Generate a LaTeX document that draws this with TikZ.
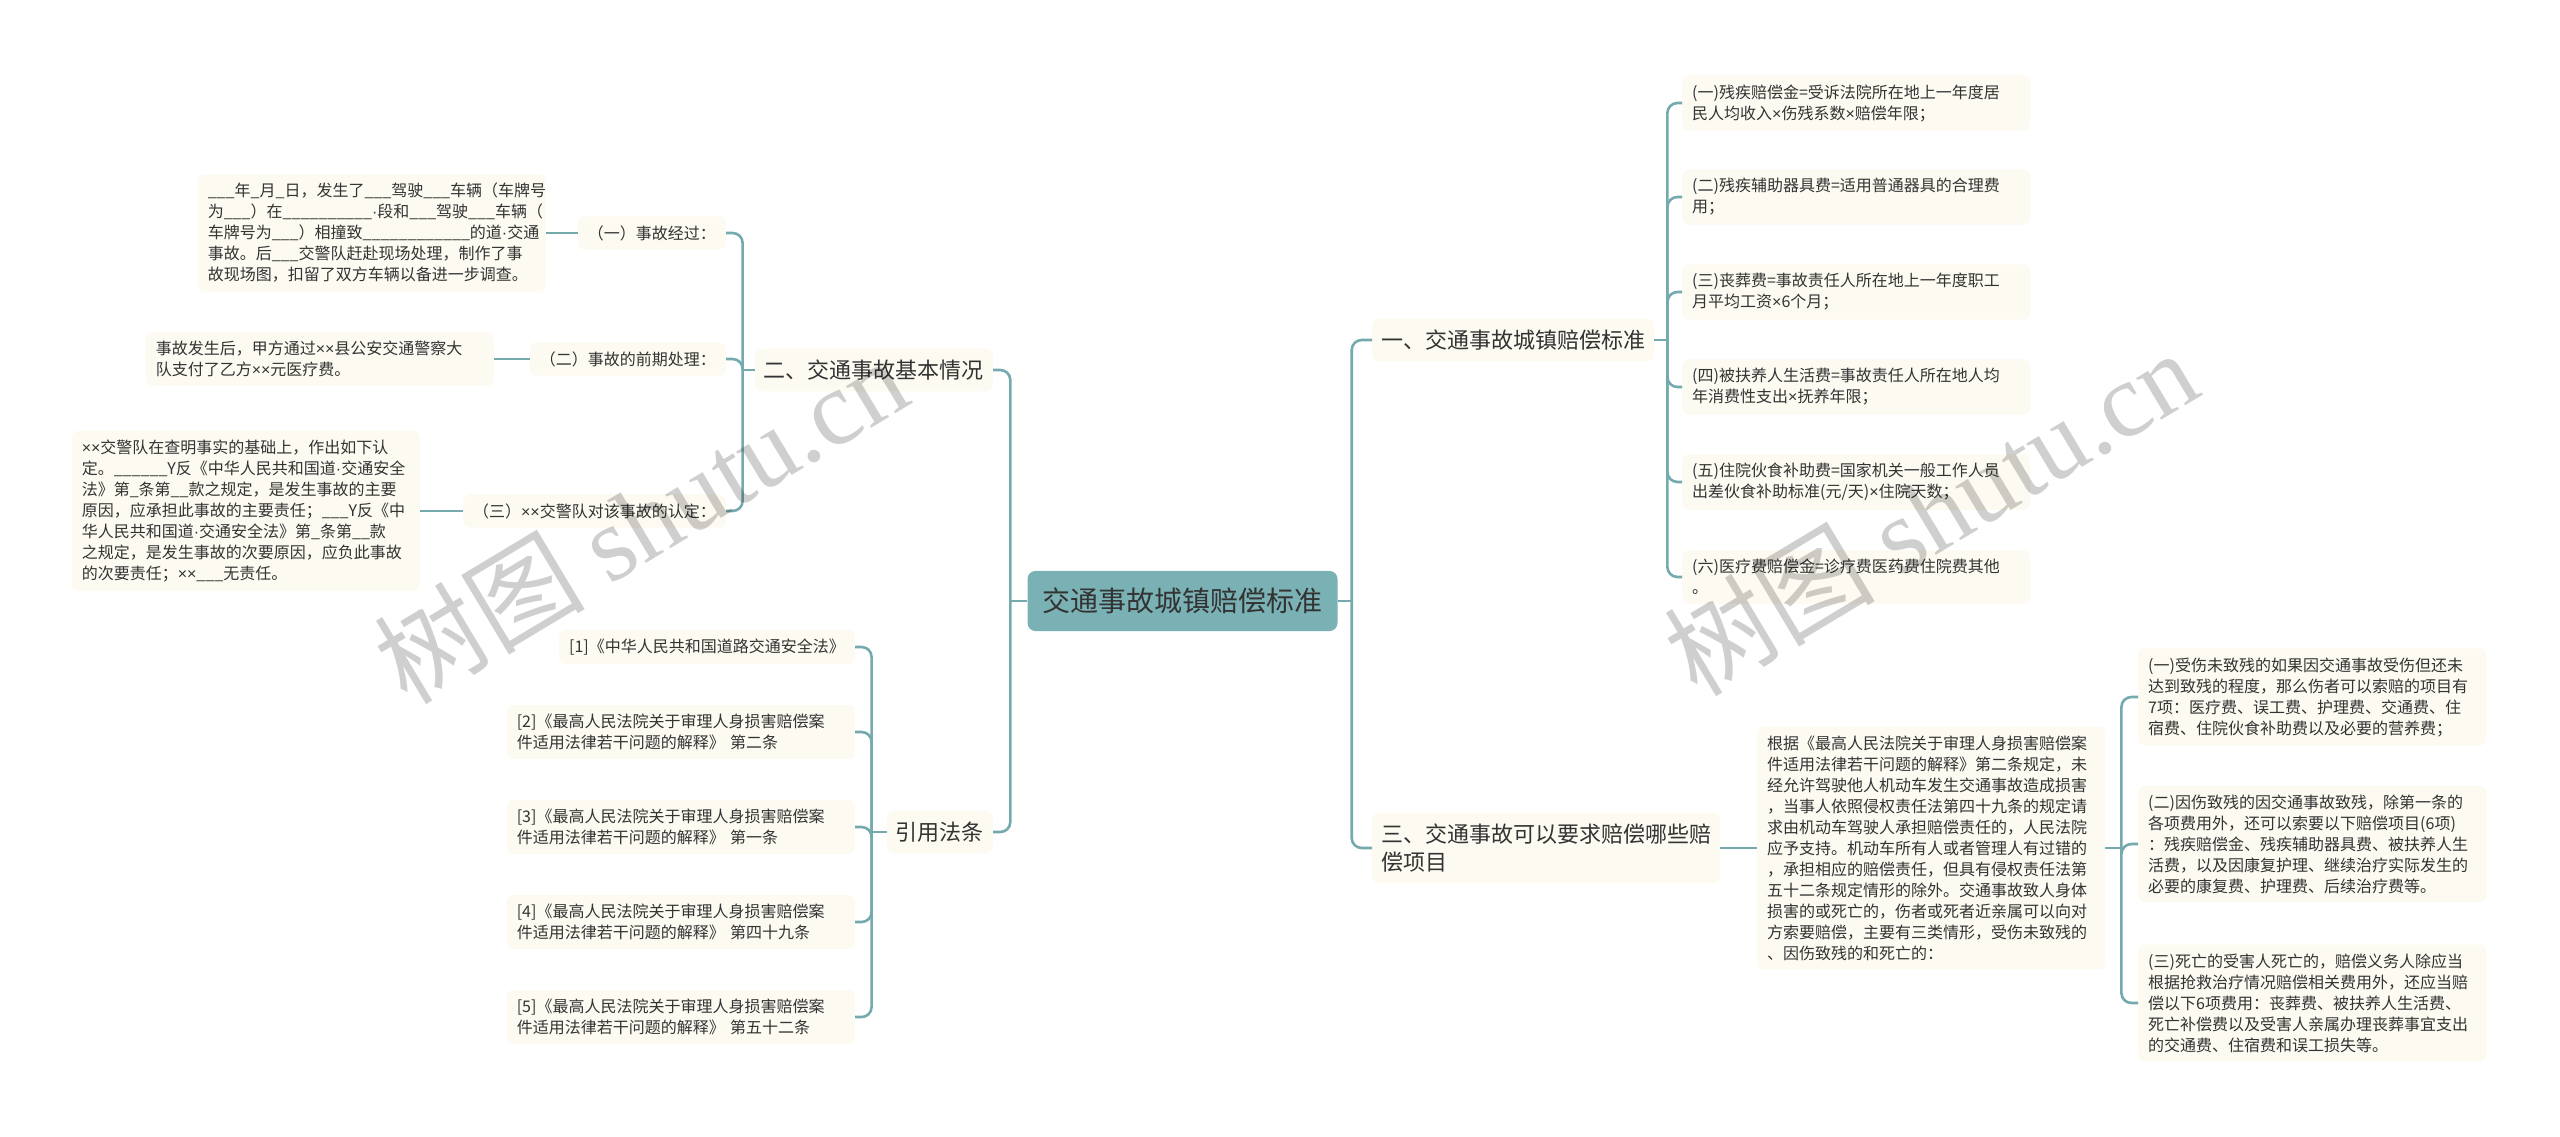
\documentclass[tikz,border=0pt]{standalone}
\usepackage{fontspec}
\setmainfont{Noto Sans CJK SC}
\newfontfamily\wmlatin{Liberation Serif}
\newfontfamily\latf{Liberation Sans}
\newcommand{\X}{{\latf ×}}
\newcommand{\D}{{\latf ·}}
\usetikzlibrary{calc}
\definecolor{rootfill}{HTML}{7AB1B4}
\definecolor{linec}{HTML}{74AAAD}
\definecolor{cream}{HTML}{FCFAF1}
\definecolor{txt}{HTML}{333333}
\tikzset{
  conn/.style={draw=linec, line width=2.6pt, rounded corners=10pt},
  box/.style={fill=cream, rounded corners=7pt, text=txt, inner xsep=10pt, inner ysep=9pt},
  leaf/.style={box, font=\fontsize{16}{21}\selectfont, text width=328pt, align=left},
  small/.style={box, font=\fontsize{16}{21}\selectfont},
  mainbox/.style={box, font=\fontsize{22}{28}\selectfont, inner xsep=9pt, inner ysep=11pt},
  rootbox/.style={fill=rootfill, rounded corners=8pt, text=txt, font=\fontsize{28}{32}\selectfont, inner xsep=15pt, inner ysep=17pt},
  wm/.style={font=\fontsize{106}{106}\selectfont, text=black, opacity=0.19},
}
\begin{document}
\begin{tikzpicture}[x=1pt,y=-1pt]
\useasboundingbox (0,0) rectangle (2560,1137);
\fill[white] (0,0) rectangle (2560,1137);

% root
\node[rootbox] (root) at (1182.5,601) {交通事故城镇赔偿标准};

% left main
\node[mainbox, anchor=east] (n2) at (993,370) {二、交通事故基本情况};
\node[mainbox, anchor=east] (ny) at (993,832) {引用法条};

% left level 2
\node[small, anchor=east] (a1) at (726,233) {（一）事故经过：};
\node[small, anchor=east] (a2) at (726,359) {（二）事故的前期处理：};
\node[small, anchor=east] (a3) at (726,511) {（三）\X\X 交警队对该事故的认定：};

\node[leaf, anchor=east] (l1) at (546,233) {\_\_\_年\_月\_日，发生了\_\_\_驾驶\_\_\_车辆（车牌号\\为\_\_\_）在\_\_\_\_\_\_\_\_\_\_\D 段和\_\_\_驾驶\_\_\_车辆（\\车牌号为\_\_\_）相撞致\_\_\_\_\_\_\_\_\_\_\_\_的道\D 交通\\事故。后\_\_\_交警队赶赴现场处理，制作了事\\故现场图，扣留了双方车辆以备进一步调查。};
\node[leaf, anchor=east] (l2) at (494,359) {事故发生后，甲方通过\X\X 县公安交通警察大\\队支付了乙方\X\X 元医疗费。};
\node[leaf, anchor=east] (l3) at (420,511) {\X\X 交警队在查明事实的基础上，作出如下认\\定。\_\_\_\_\_\_Y反《中华人民共和国道\D 交通安全\\法》第\_条第\_\_款之规定，是发生事故的主要\\原因，应承担此事故的主要责任；\_\_\_Y反《中\\华人民共和国道\D 交通安全法》第\_条第\_\_款\\之规定，是发生事故的次要原因，应负此事故\\的次要责任；\X\X \_\_\_无责任。};

\node[small, anchor=east] (r1) at (855,647) {[1]《中华人民共和国道路交通安全法》};
\node[leaf, anchor=east] (r2) at (855,732) {[2]《最高人民法院关于审理人身损害赔偿案\\件适用法律若干问题的解释》 第二条};
\node[leaf, anchor=east] (r3) at (855,827) {[3]《最高人民法院关于审理人身损害赔偿案\\件适用法律若干问题的解释》 第一条};
\node[leaf, anchor=east] (r4) at (855,922) {[4]《最高人民法院关于审理人身损害赔偿案\\件适用法律若干问题的解释》 第四十九条};
\node[leaf, anchor=east] (r5) at (855,1017) {[5]《最高人民法院关于审理人身损害赔偿案\\件适用法律若干问题的解释》 第五十二条};

% right main
\node[mainbox, anchor=west] (n1) at (1372,340) {一、交通事故城镇赔偿标准};
\node[mainbox, anchor=west, align=left] (n3) at (1372,848) {三、交通事故可以要求赔偿哪些赔\\偿项目};

\node[leaf, anchor=west] (b1) at (1682,103) {(一)残疾赔偿金=受诉法院所在地上一年度居\\民人均收入\X 伤残系数\X 赔偿年限；};
\node[leaf, anchor=west] (b2) at (1682,197) {(二)残疾辅助器具费=适用普通器具的合理费\\用；};
\node[leaf, anchor=west] (b3) at (1682,292) {(三)丧葬费=事故责任人所在地上一年度职工\\月平均工资\X 6个月；};
\node[leaf, anchor=west] (b4) at (1682,387) {(四)被扶养人生活费=事故责任人所在地人均\\年消费性支出\X 抚养年限；};
\node[leaf, anchor=west] (b5) at (1682,482) {(五)住院伙食补助费=国家机关一般工作人员\\出差伙食补助标准(元/天)\X 住院天数；};
\node[leaf, anchor=west] (b6) at (1682,577) {(六)医疗费赔偿金=诊疗费医药费住院费其他\\。};

\node[leaf, anchor=west] (c0) at (1757,848) {根据《最高人民法院关于审理人身损害赔偿案\\件适用法律若干问题的解释》第二条规定，未\\经允许驾驶他人机动车发生交通事故造成损害\\，当事人依照侵权责任法第四十九条的规定请\\求由机动车驾驶人承担赔偿责任的，人民法院\\应予支持。机动车所有人或者管理人有过错的\\，承担相应的赔偿责任，但具有侵权责任法第\\五十二条规定情形的除外。交通事故致人身体\\损害的或死亡的，伤者或死者近亲属可以向对\\方索要赔偿，主要有三类情形，受伤未致残的\\、因伤致残的和死亡的：};

\node[leaf, anchor=west] (c1) at (2138,697) {(一)受伤未致残的如果因交通事故受伤但还未\\达到致残的程度，那么伤者可以索赔的项目有\\7项：医疗费、误工费、护理费、交通费、住\\宿费、住院伙食补助费以及必要的营养费；};
\node[leaf, anchor=west] (c2) at (2138,844) {(二)因伤致残的因交通事故致残，除第一条的\\各项费用外，还可以索要以下赔偿项目(6项)\\：残疾赔偿金、残疾辅助器具费、被扶养人生\\活费，以及因康复护理、继续治疗实际发生的\\必要的康复费、护理费、后续治疗费等。};
\node[leaf, anchor=west] (c3) at (2138,1003) {(三)死亡的受害人死亡的，赔偿义务人除应当\\根据抢救治疗情况赔偿相关费用外，还应当赔\\偿以下6项费用：丧葬费、被扶养人生活费、\\死亡补偿费以及受害人亲属办理丧葬事宜支出\\的交通费、住宿费和误工损失等。};

% connectors left
\draw[conn] (root.west) -- ++(-17,0) coordinate (sL);
\draw[conn] (sL) |- (n2.east);
\draw[conn] (sL) |- (ny.east);
\draw[conn] (n2.west) -- ++(-12,0) coordinate (s2);
\draw[conn] (s2) |- (a1.east);
\draw[conn] (s2) |- (a2.east);
\draw[conn] (s2) |- (a3.east);
\draw[conn] (a1.west) -- (l1.east);
\draw[conn] (a2.west) -- (l2.east);
\draw[conn] (a3.west) -- (l3.east);
\draw[conn] (ny.west) -- ++(-15,0) coordinate (sy);
\foreach \r in {r1,r2,r3,r4,r5} \draw[conn] (sy) |- (\r.east);

% connectors right
\draw[conn] (root.east) -- ++(14,0) coordinate (sR);
\draw[conn] (sR) |- (n1.west);
\draw[conn] (sR) |- (n3.west);
\draw[conn] (n1.east) -- ++(13,0) coordinate (s1);
\foreach \b in {b1,b2,b3,b4,b5,b6} \draw[conn] (s1) |- (\b.west);
\draw[conn] (n3.east) -- (c0.west);
\draw[conn] (c0.east) -- ++(16,0) coordinate (sc);
\foreach \c in {c1,c2,c3} \draw[conn] (sc) |- (\c.west);

% watermarks
\node[wm, rotate=31] (wm1) at (640,520) {树图 {\wmlatin shutu.cn}};
\node[wm, rotate=31] (wm2) at (1930,512) {树图 {\wmlatin shutu.cn}};
\end{tikzpicture}
\end{document}
